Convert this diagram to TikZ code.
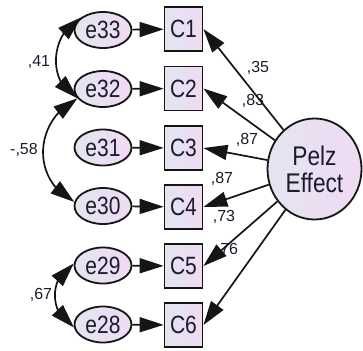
\documentclass[tikz,border=0pt]{standalone}
\usepackage{fontspec}
\setmainfont{Liberation Sans}
\newfontfamily\nodefont[FakeStretch=0.84]{Liberation Sans}
\usetikzlibrary{arrows.meta,shapes.geometric,bending}
\definecolor{fillL}{HTML}{E3E5F1}
\definecolor{fillR}{HTML}{F0DAF2}
\definecolor{ink}{HTML}{151515}
\definecolor{txt}{HTML}{1C1C2C}
\begin{document}
\begin{tikzpicture}[x=1pt,y=-1pt,
  errnode/.style={ellipse,draw=ink,line width=1.8pt,left color=fillL,right color=fillR,
    minimum width=57pt,minimum height=36pt,inner sep=0pt,
    font={\nodefont\fontsize{25}{25}\selectfont},text=txt},
  obsnode/.style={rectangle,draw=ink,line width=1.8pt,left color=fillL,right color=fillR,
    minimum width=38pt,minimum height=44pt,inner sep=0pt,
    font={\nodefont\fontsize{25}{25}\selectfont},text=txt},
  latnode/.style={ellipse,draw=ink,line width=1.8pt,left color=fillL,right color=fillR,
    minimum width=94pt,minimum height=101pt,inner sep=0pt,align=center,
    font={\nodefont\fontsize{27}{27}\selectfont},text=txt},
  lab/.style={font={\fontsize{16}{16}\selectfont},text=txt,inner sep=0pt},
  arr/.style={-{Triangle[length=24pt,width=15pt]},line width=1.7pt,draw=ink},
  cov/.style={{Triangle[length=24pt,width=15pt]}-{Triangle[length=24pt,width=15pt]},line width=1.7pt,draw=ink},
]
\useasboundingbox (0,0) rectangle (363,350);

% latent
\node[latnode] (pe) at (314.5,169) {Pelz\\Effect};

% observed
\node[obsnode] (C1) at (183.5,29) {C1};
\node[obsnode] (C2) at (183.5,88.5) {C2};
\node[obsnode] (C3) at (183.5,148) {C3};
\node[obsnode] (C4) at (183.5,207) {C4};
\node[obsnode] (C5) at (183.5,266) {C5};
\node[obsnode] (C6) at (183.5,325) {C6};

% errors
\node[errnode] (e33) at (103,30) {e33};
\node[errnode] (e32) at (103,89) {e32};
\node[errnode] (e31) at (103,147.5) {e31};
\node[errnode] (e30) at (103,206) {e30};
\node[errnode] (e29) at (103,265.5) {e29};
\node[errnode] (e28) at (103,324.5) {e28};

% labels
\node[lab] (l1) at (258,68) {,35};
\node[lab] (l2) at (253,101) {,83};
\node[lab] (l3) at (247,140) {,87};
\node[lab] (l4) at (222,179) {,87};
\node[lab] (l5) at (224,217) {,73};
\node[lab] (l6) at (227,250) {,76};
\node[lab] (l7) at (39,62) {,41};
\node[lab] (l8) at (24,150) {-,58};
\node[lab] (l9) at (41,295) {,67};

% error -> indicator
\foreach \e/\c in {e33/C1,e32/C2,e31/C3,e30/C4,e29/C5,e28/C6}
  \draw[arr] (\e) -- (\c);

% latent -> indicators
\foreach \c in {C1,C2,C3,C4,C5,C6}
  \draw[arr] (pe) -- (\c.east);

% covariances
\draw[cov] (e33.150) .. controls +(-31,15.8) and +(-31,-15.8) .. (e32.200);
\draw[cov] (e32.200) .. controls +(-43.7,22.2) and +(-43.7,-22.2) .. (e30.172);
\draw[cov] (e29.176) .. controls +(-25.3,12.9) and +(-25.3,-12.9) .. (e28.186);
\end{tikzpicture}
\end{document}
